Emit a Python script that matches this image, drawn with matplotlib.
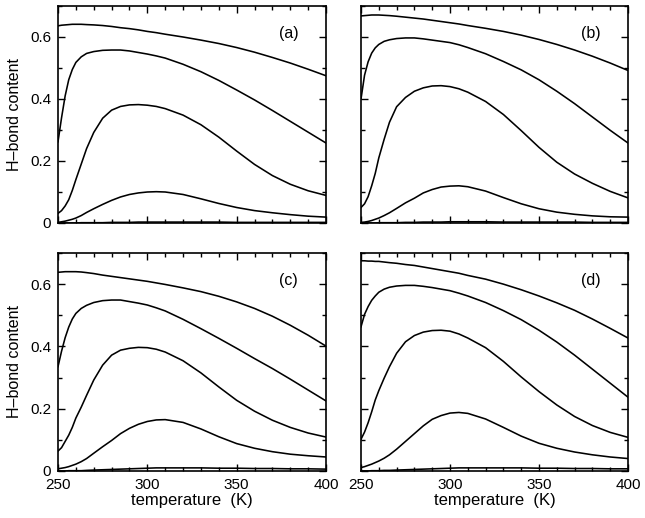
import matplotlib
matplotlib.use("Agg")
import matplotlib.pyplot as plt
from matplotlib.ticker import MultipleLocator, FixedLocator, FuncFormatter

plt.rcParams['font.family'] = ['Liberation Sans', 'DejaVu Sans']

T = [250, 252, 254, 256, 258, 260, 263, 266, 270, 275, 280, 285, 290, 295,
     300, 305, 310, 320, 330, 340, 350, 360, 370, 380, 390, 400]

# panel (a)
a1 = [.636, .638, .639, .640, .641, .641, .641, .640, .639, .637, .634, .630, .627, .623,
      .618, .614, .609, .600, .590, .579, .566, .551, .534, .516, .496, .475]
a2 = [.262, .340, .410, .462, .495, .518, .536, .547, .553, .557, .558, .558, .555, .550,
      .545, .539, .532, .512, .488, .460, .429, .397, .363, .328, .293, .258]
a3 = [.031, .040, .055, .075, .105, .140, .190, .240, .292, .338, .364, .376, .381, .382,
      .380, .376, .369, .348, .317, .277, .232, .189, .153, .125, .104, .089]
a4 = [.002, .004, .006, .009, .012, .016, .024, .034, .046, .060, .073, .084, .092, .097,
      .100, .101, .100, .092, .078, .063, .050, .040, .033, .027, .022, .019]
a5 = [.000, .000, .000, .000, .000, .000, .001, .001, .001, .001, .002, .002, .002, .003,
      .003, .003, .003, .003, .003, .003, .002, .002, .002, .002, .002, .002]

# panel (b)
b1 = [.668, .669, .670, .671, .671, .671, .670, .669, .667, .664, .661, .658, .654, .650,
      .646, .642, .637, .628, .618, .606, .592, .576, .558, .538, .516, .492]
b2 = [.400, .477, .520, .548, .565, .576, .586, .591, .595, .597, .597, .594, .590, .586,
      .582, .575, .566, .546, .521, .494, .462, .425, .385, .342, .299, .258]
b3 = [.050, .062, .085, .120, .160, .210, .270, .325, .375, .405, .425, .436, .442, .443,
      .440, .433, .422, .392, .350, .298, .244, .196, .158, .128, .102, .081]
b4 = [.002, .003, .005, .008, .012, .016, .024, .033, .047, .065, .080, .097, .108, .116,
      .119, .120, .117, .103, .082, .062, .046, .035, .028, .023, .020, .019]
b5 = [.000, .000, .000, .000, .000, .001, .001, .001, .001, .002, .002, .003, .003, .003,
      .004, .004, .004, .004, .003, .003, .003, .003, .003, .002, .002, .002]

# panel (c)
c1 = [.638, .639, .640, .640, .640, .640, .639, .637, .634, .629, .625, .621, .617, .613,
      .609, .604, .599, .588, .576, .561, .543, .522, .497, .468, .436, .401]
c2 = [.335, .385, .428, .462, .488, .506, .522, .532, .541, .547, .549, .549, .544, .539,
      .533, .524, .514, .487, .457, .426, .394, .361, .329, .295, .260, .225]
c3 = [.064, .075, .095, .115, .140, .170, .205, .243, .292, .340, .372, .388, .394, .397,
      .396, .391, .382, .354, .315, .270, .227, .192, .163, .140, .122, .109]
c4 = [.007, .009, .011, .014, .018, .022, .030, .040, .057, .078, .098, .120, .137, .150,
      .159, .164, .165, .156, .135, .110, .088, .073, .062, .054, .049, .045]
c5 = [.000, .000, .000, .001, .001, .001, .001, .002, .003, .004, .005, .006, .007, .008,
      .009, .010, .010, .010, .010, .009, .009, .008, .008, .007, .007, .006]

# panel (d)
d1 = [.675, .675, .674, .674, .673, .673, .671, .669, .667, .663, .660, .655, .650, .645,
      .640, .635, .628, .616, .600, .582, .562, .540, .516, .488, .458, .427]
d2 = [.463, .503, .528, .548, .562, .574, .584, .590, .594, .596, .596, .593, .589, .584,
      .579, .571, .562, .541, .515, .486, .452, .414, .372, .327, .282, .237]
d3 = [.102, .125, .155, .190, .228, .258, .298, .335, .378, .415, .435, .446, .451, .452,
      .449, .440, .427, .396, .352, .302, .255, .212, .175, .146, .124, .108]
d4 = [.011, .014, .018, .022, .027, .032, .041, .052, .070, .095, .120, .145, .166, .178,
      .186, .188, .185, .167, .140, .112, .089, .073, .061, .052, .045, .040]
d5 = [.000, .000, .000, .001, .001, .001, .002, .002, .003, .004, .005, .006, .007, .008,
      .009, .010, .010, .010, .010, .010, .009, .009, .008, .008, .007, .007]

panels = [
    ("(a)", [a1, a2, a3, a4, a5]),
    ("(b)", [b1, b2, b3, b4, b5]),
    ("(c)", [c1, c2, c3, c4, c5]),
    ("(d)", [d1, d2, d3, d4, d5]),
]

xticks = [250, 300, 350, 400]
yticks = [0, 0.2, 0.4, 0.6]

fig = plt.figure(figsize=(6.45, 5.18), dpi=100)
W, H = 645.0, 518.0
boxes = [(58, 6, 326, 223), (361, 6, 628, 223), (58, 253, 326, 471), (361, 253, 628, 471)]

def yfmt(v, pos):
    return "0" if abs(v) < 1e-9 else f"{v:.1f}"

for i, ((lab, curves), (l, t, r, b)) in enumerate(zip(panels, boxes)):
    ax = fig.add_axes([l / W, 1 - b / H, (r - l) / W, (b - t) / H])
    for y in curves:
        ax.plot(T, y, color='black', lw=1.15, solid_joinstyle='round')
    ax.set_xlim(250, 400)
    ax.set_ylim(0, 0.7)
    ax.xaxis.set_major_locator(FixedLocator(xticks))
    ax.xaxis.set_minor_locator(MultipleLocator(10))
    ax.yaxis.set_major_locator(FixedLocator(yticks))
    ax.yaxis.set_minor_locator(MultipleLocator(0.1))
    ax.yaxis.set_major_formatter(FuncFormatter(yfmt))
    ax.tick_params(which='both', direction='in', top=True, right=True, width=1.0,
                   labelsize=11)
    ax.tick_params(axis='x', pad=5)
    ax.tick_params(axis='y', pad=5)
    ax.tick_params(which='major', length=5)
    ax.tick_params(which='minor', length=3)
    for s in ax.spines.values():
        s.set_linewidth(1.2)
    ax.text(0.86, 0.875, lab, transform=ax.transAxes, fontsize=11.5,
            ha='center', va='center')
    if i < 2:
        ax.tick_params(labelbottom=False)
    else:
        ax.set_xlabel("temperature  (K)", fontsize=12, labelpad=1)
    if i % 2 == 1:
        ax.tick_params(labelleft=False)
    else:
        ax.set_ylabel("H\u2013bond content", fontsize=11.5, labelpad=6)

fig.savefig("out.png", dpi=100)
